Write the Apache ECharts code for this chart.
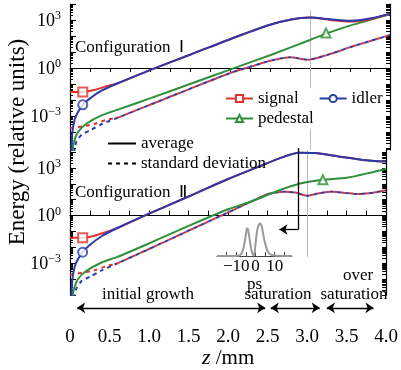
<!DOCTYPE html>
<html>
<head>
<meta charset="utf-8">
<script src="https://cdn.jsdelivr.net/npm/echarts@6/dist/echarts.min.js"></script>
<style>
html, body { margin: 0; padding: 0; background: #fff; }
#chart { width: 401px; height: 370px; }
</style>
</head>
<body>
<div id="chart"></div>
<script>
// z (mm) against log10 of the energy (relative units)
// Configuration I
var signalAvgI = [[0,-1.5],[0.16,-1.5],[0.3,-1.38],[0.45,-1.15],[0.6,-0.95],[1.0,-0.13],[1.5,0.83],[2.0,1.8],[2.5,2.7],[2.75,3.02],[3.0,3.15],[3.25,3.0],[3.5,2.9],[3.75,3.05],[4.0,3.4]]
var idlerAvgI = [[0.015,-5.3],[0.03,-4.0],[0.06,-3.2],[0.1,-2.75],[0.16,-2.3],[0.25,-1.9],[0.4,-1.4],[0.6,-0.95],[1.0,-0.13],[1.5,0.83],[2.0,1.8],[2.5,2.7],[2.75,3.02],[3.0,3.15],[3.25,3.05],[3.5,2.96],[3.75,3.1],[4.0,3.4]]
var pedestalAvgI = [[0.025,-5.3],[0.05,-4.6],[0.1,-4.0],[0.2,-3.5],[0.4,-2.95],[0.6,-2.6],[1.0,-1.9],[1.5,-1.0],[2.0,-0.1],[2.5,0.8],[3.0,1.75],[3.2,2.15],[3.5,2.65],[4.0,3.35]]
var signalStdI = [[0,-3.75],[0.15,-3.65],[0.3,-3.5],[0.45,-3.25],[0.6,-3.1],[1.0,-2.3],[1.5,-1.3],[2.0,-0.32],[2.3,0.15],[2.5,0.45],[2.75,0.67],[2.97,0.52],[3.25,0.87],[3.5,1.3],[3.75,1.68],[4.0,2.06]]
var idlerStdI = [[0.05,-5.3],[0.08,-4.6],[0.15,-4.15],[0.25,-3.9],[0.4,-3.5],[0.6,-3.1],[1.0,-2.3],[1.5,-1.3],[2.0,-0.32],[2.3,0.15],[2.5,0.45],[2.75,0.67],[2.97,0.52],[3.25,0.87],[3.5,1.3],[3.75,1.68],[4.0,2.06]]
// Configuration II
var signalAvgII = [[0,-1.4],[0.16,-1.4],[0.3,-1.28],[0.45,-1.05],[0.6,-0.78],[1.0,0.12],[1.5,1.2],[2.0,2.3],[2.4,3.1],[2.65,3.6],[2.9,3.95],[3.1,3.93],[3.4,3.72],[3.7,3.5],[4.0,3.4]]
var idlerAvgII = [[0.015,-5.2],[0.03,-4.0],[0.06,-3.2],[0.1,-2.75],[0.16,-2.3],[0.25,-1.85],[0.4,-1.3],[0.6,-0.78],[1.0,0.12],[1.5,1.2],[2.0,2.3],[2.4,3.1],[2.65,3.6],[2.9,3.95],[3.1,3.93],[3.4,3.72],[3.7,3.5],[4.0,3.4]]
var pedestalAvgII = [[0.025,-5.2],[0.05,-4.6],[0.1,-4.0],[0.2,-3.5],[0.4,-2.95],[0.6,-2.6],[1.0,-1.75],[1.5,-0.65],[2.0,0.4],[2.3,0.9],[2.6,1.5],[2.9,2.0],[3.2,2.25],[3.5,2.38],[3.8,2.7],[4.0,2.95]]
var signalStdII = [[0,-3.7],[0.15,-3.6],[0.3,-3.45],[0.45,-3.2],[0.6,-3.0],[1.0,-2.1],[1.5,-0.95],[2.0,0.2],[2.3,0.9],[2.5,1.35],[2.7,1.5],[2.85,1.45],[3.0,1.25],[3.15,1.4],[3.3,1.5],[3.5,1.42],[3.65,1.36],[3.85,1.45],[4.0,1.6]]
var idlerStdII = [[0.05,-5.2],[0.08,-4.6],[0.15,-4.1],[0.25,-3.85],[0.4,-3.45],[0.6,-3.0],[1.0,-2.1],[1.5,-0.95],[2.0,0.2],[2.3,0.9],[2.5,1.35],[2.7,1.5],[2.85,1.45],[3.0,1.25],[3.15,1.4],[3.3,1.5],[3.5,1.42],[3.65,1.36],[3.85,1.45],[4.0,1.6]]
// marker points [I, II]
var signalMarks = [[0.16,-1.5],[0.16,-1.4]]
var idlerMarks = [[0.16,-2.3],[0.16,-2.3]]
var pedestalMarks = [[3.2,2.19],[3.2,2.25]]
// inset pulse (ps, normalised)
var pulseT = [-20,-12,-9,-8,-7,-6,-5,-4.4,-3.8,-3,-2,-1.3,-0.9,-0.5,0,0.8,1.6,2.5,3.3,4.2,5,6,7,8.5,11,19]
var pulseP = [0,0,0.01,0.03,0.1,0.3,0.65,0.86,0.8,0.5,0.15,0.04,0.02,0.08,0.35,0.75,0.95,1.0,0.9,0.62,0.4,0.2,0.09,0.03,0.005,0]
// annotations
var phaseRanges = [[0.09,2.47],[2.54,3.16],[3.25,3.84]]
var dividerZ = 3.0
var pointerZ = [2.8875, 2.65]
// ticks
var xTickValues = [0,0.5,1,1.5,2,2.5,3,3.5,4]
var yTickExp = [-3,0,3]
var insetTickValues = [-10,0,10]

var RED = '#e0322f', BLUE = '#2b3aa6', GREEN = '#2f8f3a'
var FONT = '"Liberation Serif", "Times New Roman", serif'

var chart = echarts.init(document.getElementById('chart'))

function logTicks(lo, hi, minorOnly) {
  var out = []
  for (var n = -6; n <= 4; n++) {
    for (var k = (minorOnly ? 2 : 1); k <= 9; k++) {
      var v = n + Math.log10(k)
      if (v >= lo - 1e-9 && v <= hi + 1e-9) out.push(v)
    }
  }
  return out
}
function majors(lo, hi) {
  var out = []
  for (var n = Math.ceil(lo); n <= hi; n++) out.push(n)
  return out
}
var quarters = []
for (var q = 0; q <= 16; q++) quarters.push(q * 0.25)

function yAxesFor(grid, min, max) {
  return [
    {
      type: 'value', gridIndex: grid, min: min, max: max, position: 'left',
      axisLine: { show: true, lineStyle: { color: '#000', width: 1.2 } },
      axisTick: { show: true, inside: true, length: 6, customValues: majors(min, max), lineStyle: { color: '#000' } },
      axisLabel: {
        customValues: yTickExp, margin: 9, color: '#000',
        formatter: function (v) { return '{b|10}{s|' + (v < 0 ? '\u2212' + (-v) : v) + '}' },
        rich: {
          b: { fontFamily: FONT, fontSize: 18, color: '#000', verticalAlign: 'bottom' },
          s: { fontFamily: FONT, fontSize: 12, color: '#000', verticalAlign: 'bottom', padding: [0, 0, 8, 0] }
        }
      },
      splitLine: { show: false }
    },
    {
      type: 'value', gridIndex: grid, min: min, max: max, position: 'left',
      axisLine: { show: false },
      axisTick: { show: true, inside: true, length: 3, customValues: logTicks(min, max, true), lineStyle: { color: '#000' } },
      axisLabel: { show: false }, splitLine: { show: false }
    },
    {
      type: 'value', gridIndex: grid, min: min, max: max, position: 'right',
      axisLine: { show: true, lineStyle: { color: '#000', width: 1.2 } },
      axisTick: { show: true, inside: true, length: 4, customValues: logTicks(min, max, false), lineStyle: { color: '#000' } },
      axisLabel: { show: false }, splitLine: { show: false }
    }
  ]
}

function curve(name, data, color, xi, yi, dashed, offset, symbol) {
  return {
    type: 'line', name: name, data: data, xAxisIndex: xi, yAxisIndex: yi,
    smooth: 0.25, showSymbol: false,
    symbol: symbol || 'none', symbolSize: 8,
    color: color, z: dashed ? 2 : 3,
    lineStyle: { color: color, width: 2, type: dashed ? [4, 4] : 'solid', dashOffset: offset || 0 }
  }
}
function before(d, z) { return d.filter(function (p) { return p[0] <= z }) }
function after(d, z) { return d.filter(function (p) { return p[0] >= z }) }
function mark(name, pt, color, sym, xi, yi) {
  return {
    type: 'scatter', name: name, data: [pt], xAxisIndex: xi, yAxisIndex: yi,
    symbol: sym, symbolSize: 9, z: 5,
    itemStyle: { color: color, borderWidth: 1.5 }
  }
}
function seg(coords, color, width, symbols, xi, yi, z) {
  return {
    type: 'lines', coordinateSystem: 'cartesian2d', xAxisIndex: xi, yAxisIndex: yi,
    clip: false, z: z, silent: true,
    symbol: symbols, symbolSize: 8,
    lineStyle: { color: color, width: width, opacity: 1 },
    data: [{ coords: coords }]
  }
}

var panelI = [-5.125, 4]
var panelII = [-5, 4.125]
var MERGE = 0.6
var arrowLevel = -5.8

var series = []
// panel I  (x 0, y 0)
series.push(seg([[dividerZ, 3.6], [dividerZ, panelI[0]]], '#b8b8b8', 1, ['none', 'none'], 0, 0, 1))
series.push(curve('sigStdI_a', before(signalStdI, MERGE), RED, 0, 0, true, 0))
series.push(curve('idlStdI_a', before(idlerStdI, MERGE), BLUE, 0, 0, true, 0))
series.push(curve('sigStdI_b', after(signalStdI, MERGE), RED, 0, 0, true, 0))
series.push(curve('idlStdI_b', after(idlerStdI, MERGE), BLUE, 0, 0, true, 4))
series.push(curve('pedestal', pedestalAvgI, GREEN, 0, 0, false, 0, 'emptyTriangle'))
series.push(curve('signal', signalAvgI, RED, 0, 0, false, 0, 'emptyRect'))
series.push(curve('idler', idlerAvgI, BLUE, 0, 0, false, 0, 'emptyCircle'))
series.push(mark('mSigI', signalMarks[0], RED, 'emptyRect', 0, 0))
series.push(mark('mIdlI', idlerMarks[0], BLUE, 'emptyCircle', 0, 0))
series.push(mark('mPedI', pedestalMarks[0], GREEN, 'emptyTriangle', 0, 0))
// panel II (x 1, y 3)
series.push(seg([[dividerZ, panelII[1]], [dividerZ, -2.6]], '#b8b8b8', 1, ['none', 'none'], 1, 3, 1))
series.push(curve('sigStdII_a', before(signalStdII, MERGE), RED, 1, 3, true, 0))
series.push(curve('idlStdII_a', before(idlerStdII, MERGE), BLUE, 1, 3, true, 0))
series.push(curve('sigStdII_b', after(signalStdII, MERGE), RED, 1, 3, true, 0))
series.push(curve('idlStdII_b', after(idlerStdII, MERGE), BLUE, 1, 3, true, 4))
series.push(curve('pedestalII', pedestalAvgII, GREEN, 1, 3, false, 0, 'emptyTriangle'))
series.push(curve('signalII', signalAvgII, RED, 1, 3, false, 0, 'emptyRect'))
series.push(curve('idlerII', idlerAvgII, BLUE, 1, 3, false, 0, 'emptyCircle'))
series.push(mark('mSigII', signalMarks[1], RED, 'emptyRect', 1, 3))
series.push(mark('mIdlII', idlerMarks[1], BLUE, 'emptyCircle', 1, 3))
series.push(mark('mPedII', pedestalMarks[1], GREEN, 'emptyTriangle', 1, 3))
// pointer to the inset
series.push(seg([[pointerZ[0], 4.25], [pointerZ[0], -0.875]], '#000', 1.3, ['none', 'none'], 1, 3, 6))
series.push(seg([[pointerZ[0], -0.875], [pointerZ[1], -0.875]], '#000', 1.3, ['none', 'arrow'], 1, 3, 6))
// phase arrows
phaseRanges.forEach(function (r) {
  series.push(seg([[r[0], arrowLevel], [r[1], arrowLevel]], '#000', 1.3, ['arrow', 'arrow'], 1, 3, 6))
})
// legend-only series
series.push({ type: 'line', name: 'average', data: [], color: '#000', lineStyle: { color: '#000', width: 2 } })
series.push({ type: 'line', name: 'standard deviation', data: [], color: '#000', lineStyle: { color: '#000', width: 2, type: 'dashed' } })
// inset
series.push({
  type: 'line', name: 'pulse', xAxisIndex: 2, yAxisIndex: 6, smooth: 0.3, showSymbol: false, symbol: 'none',
  data: pulseT.map(function (t, i) { return [t, pulseP[i]] }),
  color: '#9a9a9a', lineStyle: { color: '#9a9a9a', width: 2 }
})

var legendText = { fontFamily: FONT, fontSize: 17, color: '#000' }
var solidIcon = 'path://M0,0H28V2H0Z'
var dashIcon = 'path://M0,0h4v2h-4zM8,0h4v2h-4zM16,0h4v2h-4zM24,0h4v2h-4z'

var option = {
  animation: false,
  backgroundColor: '#fff',
  textStyle: { fontFamily: FONT },
  grid: [
    { left: 70, right: 11, top: 4, height: 146 },
    { left: 70, right: 11, top: 150, height: 146 },
    { left: 217, right: 109, top: 222, height: 34 }
  ],
  xAxis: [
    {
      type: 'value', gridIndex: 0, min: 0, max: 4, position: 'top',
      axisLine: { show: true, lineStyle: { color: '#000', width: 1.2 } },
      axisTick: { show: true, inside: true, length: 4, customValues: quarters, lineStyle: { color: '#000' } },
      axisLabel: { show: false }, splitLine: { show: false }
    },
    {
      type: 'value', gridIndex: 1, min: 0, max: 4, position: 'bottom', offset: 24,
      axisLine: { show: true, lineStyle: { color: '#000', width: 1.2 } },
      axisTick: { show: true, inside: true, length: 5, customValues: quarters, lineStyle: { color: '#000' } },
      axisLabel: {
        customValues: xTickValues, margin: 8, color: '#000', fontFamily: FONT, fontSize: 19,
        formatter: function (v) { return v === 0 ? '0' : v.toFixed(1) }
      },
      splitLine: { show: false },
      name: '{i|z} /mm', nameLocation: 'middle', nameGap: 26,
      nameTextStyle: {
        color: '#000', fontFamily: FONT, fontSize: 21,
        rich: { i: { fontFamily: FONT, fontSize: 22, fontStyle: 'italic', color: '#000' } }
      }
    },
    {
      type: 'value', gridIndex: 2, min: -20, max: 19, position: 'bottom',
      axisLine: { show: true, lineStyle: { color: '#444', width: 1 } },
      axisTick: { show: true, inside: true, length: 4, customValues: [-15, -10, -5, 0, 5, 10, 15], lineStyle: { color: '#444' } },
      axisLabel: {
        customValues: insetTickValues, margin: 2, color: '#000', fontFamily: FONT, fontSize: 17,
        formatter: function (v) { return v < 0 ? '\u2212' + (-v) : String(v) }
      },
      splitLine: { show: false },
      name: 'ps', nameLocation: 'middle', nameGap: 14,
      nameTextStyle: { color: '#000', fontFamily: FONT, fontSize: 17 }
    }
  ],
  yAxis: yAxesFor(0, panelI[0], panelI[1])
    .concat(yAxesFor(1, panelII[0], panelII[1]))
    .concat([{ type: 'value', gridIndex: 2, min: 0, max: 1.05, show: false }]),
  legend: [
    {
      data: ['signal', 'idler'], left: 222, top: 88, itemWidth: 27, itemHeight: 9, itemGap: 20,
      backgroundColor: '#fff', padding: [2, 3, 2, 3], selectedMode: false, textStyle: legendText
    },
    {
      data: ['pedestal'], left: 222, top: 108, itemWidth: 27, itemHeight: 9,
      backgroundColor: '#fff', padding: [2, 3, 2, 3], selectedMode: false, textStyle: legendText
    },
    {
      data: [{ name: 'average', icon: solidIcon }, { name: 'standard deviation', icon: dashIcon }],
      orient: 'vertical', left: 108, top: 135, itemWidth: 28, itemHeight: 10, itemGap: 3,
      padding: 0, selectedMode: false, textStyle: legendText
    }
  ],
  graphic: [
    { type: 'text', x: 18, y: 142, rotation: Math.PI / 2,
      style: { text: 'Energy (relative units)', fontFamily: FONT, fontSize: 23, fill: '#000', textAlign: 'center', textVerticalAlign: 'middle' } },
    { type: 'text', x: 75, y: 48,
      style: { text: 'Configuration  \u2160', fontFamily: FONT, fontSize: 17, fill: '#000', textVerticalAlign: 'middle' } },
    { type: 'text', x: 75, y: 193,
      style: { text: 'Configuration  \u2161', fontFamily: FONT, fontSize: 17, fill: '#000', textVerticalAlign: 'middle' } },
    { type: 'text', x: 148, y: 295,
      style: { text: 'initial growth', fontFamily: FONT, fontSize: 17, fill: '#000', textAlign: 'center', textVerticalAlign: 'middle' } },
    { type: 'text', x: 278, y: 295,
      style: { text: 'saturation', fontFamily: FONT, fontSize: 17, fill: '#000', textAlign: 'center', textVerticalAlign: 'middle' } },
    { type: 'text', x: 354, y: 295,
      style: { text: 'saturation', fontFamily: FONT, fontSize: 17, fill: '#000', textAlign: 'center', textVerticalAlign: 'middle' } },
    { type: 'text', x: 358, y: 276,
      style: { text: 'over', fontFamily: FONT, fontSize: 17, fill: '#000', textAlign: 'center', textVerticalAlign: 'middle' } }
  ],
  series: series
}
chart.setOption(option)
</script>
</body>
</html>
